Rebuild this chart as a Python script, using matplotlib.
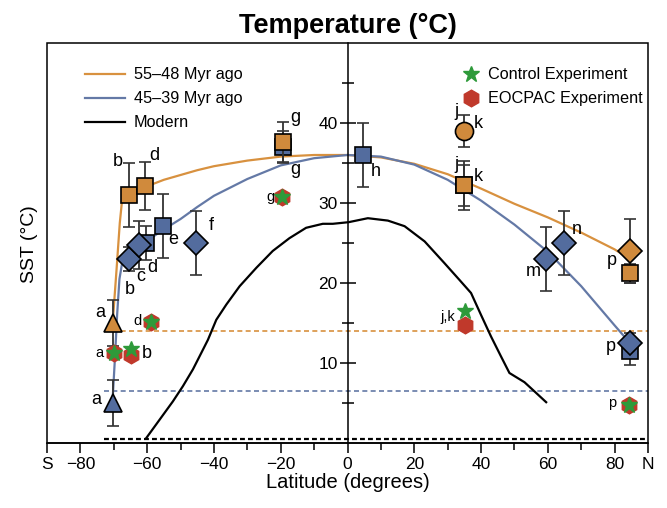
import matplotlib
matplotlib.use("Agg")
import matplotlib.pyplot as plt
from matplotlib.lines import Line2D
from matplotlib.patches import Rectangle

plt.rcParams['font.family'] = ['Liberation Sans', 'DejaVu Sans']

# ---------------- data ----------------
# fitted curves
orange_lat = [-70.3, -69.2, -68.2, -67.5, -66.5, -64, -60, -55, -50, -45, -40, -30, -20, -10, 0,
              10, 20, 30, 40, 50, 60, 70, 80, 85]
orange_T = [15.2, 21.5, 27.5, 30.4, 31.0, 31.5, 32.1, 32.9, 33.5, 34.1, 34.6, 35.3, 35.8, 36.0, 36.0,
            35.7, 34.9, 33.6, 31.8, 29.9, 28.2, 26.3, 24.2, 22.9]
blue_lat = [-70.3, -69.6, -69.0, -68.3, -67.5, -66, -63, -60, -55, -50, -45, -40, -30, -20, -10, 0,
            10, 20, 30, 40, 50, 60, 70, 80, 85]
blue_T = [5.8, 11.0, 16.0, 20.5, 22.5, 23.2, 24.3, 25.3, 26.7, 28.0, 29.5, 30.9, 33.0, 34.7, 35.6, 36.0,
          35.8, 34.8, 32.9, 30.3, 27.3, 23.9, 19.6, 14.7, 12.3]
modern_lat = [-60.3, -56.3, -52.3, -49.3, -46.3, -43.8, -41.8, -39.3, -36.3, -32.3, -27.3, -22.4,
              -17.4, -12.4, -7.4, -4.4, 0.3, 6.1, 12.1, 17.1, 23.1, 29.0, 33.5, 37.0, 40.0,
              43.0, 46.0, 48.5, 53.0, 56.0, 59.5]
modern_T = [0.6, 2.9, 5.2, 7.1, 9.2, 11.25, 12.9, 15.4, 17.3, 19.6, 21.9, 24.0,
            25.6, 26.9, 27.4, 27.4, 27.6, 28.1, 27.8, 27.1, 25.2, 22.5, 20.4, 18.75, 16.0,
            13.3, 10.8, 8.75, 7.6, 6.45, 5.1]

# horizontal reference levels
hline_levels = [14.0, 6.45, 0.5]
hline_start = -72.8

# proxy data, 55-48 Myr ago (orange)
o_sq_lat = [-65.3, -60.5, -19.4, 35.0, 35.0, 84.5]
o_sq_T = [31.0, 32.1, 37.6, 32.2, 32.2, 21.2]
o_sq_err = [4.0, 3.0, 2.5, 3.1, 2.6, 1.2]
o_tri_lat = [-70.3]
o_tri_T = [15.0]
o_tri_err = [2.9]
o_circ_lat = [35.0]
o_circ_T = [39.0]
o_circ_err = [2.0]
o_dia_lat = [84.5]
o_dia_T = [24.0]
o_dia_err = [4.0]

# proxy data, 45-39 Myr ago (blue)
b_sq_lat = [-60.3, -55.3, -19.4, 4.6, 84.5]
b_sq_T = [25.0, 27.1, 37.0, 36.0, 11.5]
b_sq_err = [2.1, 4.0, 2.0, 4.0, 1.7]
b_tri_lat = [-70.3]
b_tri_T = [5.0]
b_tri_err = [2.9]
b_dia_lat = [-65.3, -62.3, -45.3, 59.5, 64.7, 84.5]
b_dia_T = [23.0, 24.8, 25.0, 23.0, 25.0, 12.5]
b_dia_err = [1.5, 3.0, 4.0, 4.0, 4.0, 1.3]

# model experiments
ctrl_lat = [-70.0, -64.8, -58.8, -19.6, 35.3, 84.2]
ctrl_T = [11.2, 11.7, 15.1, 30.75, 16.45, 4.8]
eocpac_lat = [-70.0, -64.8, -58.8, -19.6, 35.3, 84.2]
eocpac_T = [11.2, 11.0, 15.1, 30.75, 14.8, 4.8]

# site letters (text, lat, T, small?)
site_labels = [
    ("a", -74.0, 16.3, False), ("a", -75.1, 5.4, False), ("a", -74.3, 11.3, True),
    ("b", -60.0, 11.2, False), ("d", -63.0, 15.2, True),
    ("b", -68.8, 35.2, False), ("d", -57.8, 36.0, False),
    ("b", -65.3, 19.2, False), ("c", -62.0, 20.8, False), ("d", -58.5, 22.0, False),
    ("e", -52.3, 25.4, False), ("f", -40.8, 27.2, False),
    ("g", -15.6, 40.7, False), ("g", -15.6, 34.2, False), ("g", -23.1, 30.75, True),
    ("h", 8.4, 34.0, False),
    ("j", 32.7, 41.5, False), ("k", 39.3, 39.9, False),
    ("j", 32.7, 34.8, False), ("k", 39.3, 33.3, False),
    ("j,k", 30.0, 15.8, True),
    ("m", 55.5, 21.5, False), ("n", 68.7, 26.7, False),
    ("p", 79.2, 22.8, False), ("p", 78.9, 12.1, False), ("p", 79.2, 5.0, True),
]

x_major = [-90, -80, -60, -40, -20, 0, 20, 40, 60, 80, 90]
x_major_labels = ["S", "\u221280", "\u221260", "\u221240", "\u221220", "0", "20", "40", "60", "80", "N"]
x_minor = [-70, -50, -30, -10, 10, 30, 50, 70]
y_major = [10, 20, 30, 40]
y_minor = [5, 15, 25, 35, 45]

# ---------------- style ----------------
ORANGE = '#D08A3C'
BLUE = '#536C9E'
ORANGE_LINE = '#D8913F'
BLUE_LINE = '#6479A6'
GREEN = '#2E9A3A'
RED = '#C0392B'
ERR = '#333333'

fig = plt.figure(figsize=(6.67, 5.08), dpi=100)
ax = fig.add_axes([47/667, (508-443)/508, (648-47)/667, 400/508])
ax.set_xlim(-90, 90)
ax.set_ylim(0, 50)

for s in ['right', 'top']:
    ax.spines[s].set_visible(False)
ax.spines['left'].set_position(('data', 0))
ax.spines['left'].set_linewidth(1.1)
ax.spines['bottom'].set_linewidth(1.1)
ax.add_patch(Rectangle((0, 0), 1, 1, transform=ax.transAxes, fill=False,
                       lw=1.1, ec='black', zorder=6, clip_on=False))

ax.set_xticks(x_major)
ax.set_xticklabels(x_major_labels, fontsize=12.5)
ax.set_xticks(x_minor, minor=True)
ax.tick_params(axis='x', which='major', direction='out', length=7, width=1.1, pad=3)
ax.tick_params(axis='x', which='minor', direction='out', length=5, width=1.1)
ax.set_yticks(y_major)
ax.set_yticklabels([str(v) for v in y_major], fontsize=12.5)
ax.set_yticks(y_minor, minor=True)
ax.tick_params(axis='y', which='major', direction='inout', length=12, width=1.1, pad=1)
ax.tick_params(axis='y', which='minor', direction='inout', length=8, width=1.1)

ax.set_xlabel("Latitude (degrees)", fontsize=14.5, labelpad=1)
fig.text(30/667, 1 - 244/508, "SST (\u00b0C)", rotation=90, fontsize=14,
         ha='center', va='center')
ax.set_title("Temperature (\u00b0C)", fontsize=19.5, fontweight='bold', pad=7)

# dashed reference lines
for lvl, c in zip(hline_levels, [ORANGE_LINE, BLUE_LINE, 'black']):
    if c == 'black':
        ax.hlines(lvl, hline_start, 90, colors=c, linestyles=(0, (2.2, 1.4)), lw=1.6, zorder=1)
    else:
        ax.hlines(lvl, hline_start, 90, colors=c, linestyles=(0, (3, 2)), lw=1.2, zorder=1)

# curves
ax.plot(orange_lat, orange_T, color=ORANGE_LINE, lw=1.6, zorder=2)
ax.plot(blue_lat, blue_T, color=BLUE_LINE, lw=1.6, zorder=2)
ax.plot(modern_lat, modern_T, color='black', lw=1.6, zorder=2)

ekw = dict(ls='none', ecolor=ERR, elinewidth=1.3, capsize=4, capthick=1.3, mec='black', mew=1.2)

# blue first (behind orange)
ax.errorbar(b_sq_lat, b_sq_T, yerr=b_sq_err, marker='s', ms=11, mfc=BLUE, zorder=3, **ekw)
ax.errorbar(b_dia_lat, b_dia_T, yerr=b_dia_err, marker='D', ms=12, mfc=BLUE, zorder=3, **ekw)
ax.errorbar(b_tri_lat, b_tri_T, yerr=b_tri_err, marker='^', ms=13, mfc=BLUE, zorder=3, **ekw)
ax.errorbar(o_sq_lat, o_sq_T, yerr=o_sq_err, marker='s', ms=11, mfc=ORANGE, zorder=4, **ekw)
ax.errorbar(o_dia_lat, o_dia_T, yerr=o_dia_err, marker='D', ms=12, mfc=ORANGE, zorder=4, **ekw)
ax.errorbar(o_tri_lat, o_tri_T, yerr=o_tri_err, marker='^', ms=13, mfc=ORANGE, zorder=4, **ekw)
ax.errorbar(o_circ_lat, o_circ_T, yerr=o_circ_err, marker='o', ms=13, mfc=ORANGE, zorder=4, **ekw)

ax.plot(eocpac_lat, eocpac_T, ls='none', marker='h', ms=12, mfc=RED, mec=RED, zorder=5)
ax.plot(ctrl_lat, ctrl_T, ls='none', marker='*', ms=12, mfc=GREEN, mec=GREEN, zorder=6)

for txt, la, t, small in site_labels:
    ax.text(la, t, txt, fontsize=10.5 if small else 13, ha='center', va='center', zorder=7)

# legends
leg1 = ax.legend(handles=[Line2D([], [], color=ORANGE_LINE, lw=1.6),
                          Line2D([], [], color=BLUE_LINE, lw=1.6),
                          Line2D([], [], color='black', lw=1.6)],
                 labels=["55\u201348 Myr ago", "45\u201339 Myr ago", "Modern"],
                 loc='upper left', bbox_to_anchor=(0.063, 0.939), frameon=False,
                 fontsize=11.7, handlelength=2.5, handletextpad=0.5, labelspacing=0.55,
                 borderpad=0, borderaxespad=0)
ax.add_artist(leg1)
ax.legend(handles=[Line2D([], [], ls='none', marker='*', ms=12, mfc=GREEN, mec=GREEN),
                   Line2D([], [], ls='none', marker='h', ms=12, mfc=RED, mec=RED)],
          labels=["Control Experiment", "EOCPAC Experiment"],
          loc='upper left', bbox_to_anchor=(0.69, 0.939), frameon=False,
          fontsize=11.7, handlelength=1.2, handletextpad=0.4, labelspacing=0.55,
          borderpad=0, borderaxespad=0)

fig.savefig("out.png", dpi=100)
